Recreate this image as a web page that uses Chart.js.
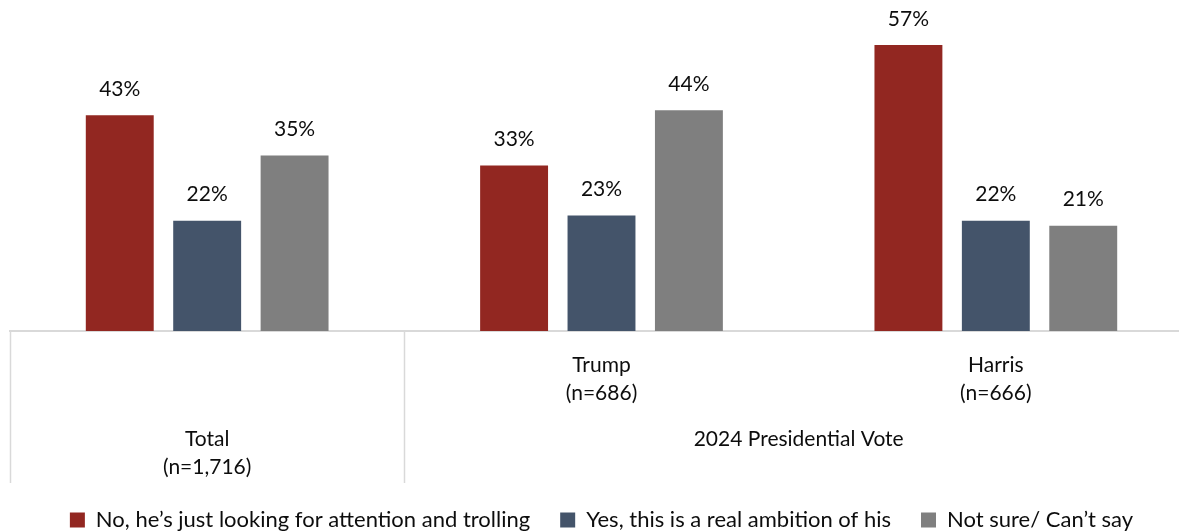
<!DOCTYPE html>
<html>
<head>
<meta charset="utf-8">
<script src="https://cdn.jsdelivr.net/npm/chart.js@4"></script>
<style>
  html, body { margin: 0; padding: 0; background: #fff; overflow: hidden; }
  #wrap { position: absolute; left: 0; top: 0; width: 1200px; height: 531px; }
</style>
</head>
<body>
<div id="wrap"><canvas id="chart"></canvas></div>
<script>
const categories = ['Total', 'Trump', 'Harris'];
const sampleSizes = ['(n=1,716)', '(n=686)', '(n=666)'];
const groupTitle = '2024 Presidential Vote';

const seriesNames = [
    'No, he\u2019s just looking for attention and trolling',
    'Yes, this is a real ambition of his',
    'Not sure/ Can\u2019t say'
];
const noTrolling = [43, 33, 57];
const yesAmbition = [22, 23, 22];
const notSure = [35, 44, 21];

const colors = ['#922721', '#44546a', '#7f7f7f'];
const FONT = 'Lato, "Open Sans", sans-serif';
const TEXT = '#0d0d0d';

// value labels on top of bars
const barLabels = {
    id: 'barLabels',
    afterDatasetsDraw(chart) {
        const ctx = chart.ctx;
        ctx.save();
        ctx.font = '21px ' + FONT;
        ctx.fillStyle = TEXT;
        ctx.textAlign = 'center';
        ctx.textBaseline = 'middle';
        chart.data.datasets.forEach((ds, i) => {
            chart.getDatasetMeta(i).data.forEach((bar, j) => {
                ctx.fillText(ds.data[j] + '%', bar.x, bar.y - 26);
            });
        });
        ctx.restore();
    }
};

// table-like category axis with group label
const axisTable = {
    id: 'axisTable',
    afterDraw(chart) {
        const ctx = chart.ctx;
        const x = chart.scales.x;
        const base = chart.chartArea.bottom;
        const step = x.getPixelForValue(1) - x.getPixelForValue(0);
        ctx.save();
        ctx.strokeStyle = '#d9d9d9';
        ctx.lineWidth = 1.5;
        [x.getPixelForValue(0) - step / 2, x.getPixelForValue(0) + step / 2].forEach(px => {
            ctx.beginPath();
            ctx.moveTo(Math.round(px) + 0.5, base);
            ctx.lineTo(Math.round(px) + 0.5, base + 152);
            ctx.stroke();
        });
        ctx.font = '21px ' + FONT;
        ctx.fillStyle = TEXT;
        ctx.textAlign = 'center';
        ctx.textBaseline = 'middle';
        // Total spans both rows
        ctx.fillText(categories[0], x.getPixelForValue(0), base + 108);
        ctx.fillText(sampleSizes[0], x.getPixelForValue(0), base + 136);
        for (let i = 1; i < categories.length; i++) {
            ctx.fillText(categories[i], x.getPixelForValue(i), base + 34);
            ctx.fillText(sampleSizes[i], x.getPixelForValue(i), base + 62);
        }
        const mid = (x.getPixelForValue(1) + x.getPixelForValue(2)) / 2;
        ctx.fillText(groupTitle, mid, base + 108);
        ctx.restore();
    }
};

new Chart(document.getElementById('chart'), {
    type: 'bar',
    data: {
        labels: categories,
        datasets: [
            { label: seriesNames[0], data: noTrolling, backgroundColor: colors[0] },
            { label: seriesNames[1], data: yesAmbition, backgroundColor: colors[1] },
            { label: seriesNames[2], data: notSure, backgroundColor: colors[2] }
        ]
    },
    options: {
        responsive: true,
        maintainAspectRatio: false,
        animation: false,
        categoryPercentage: 0.665,
        barPercentage: 0.777,
        layout: { padding: { top: 30, left: 10, right: 7, bottom: -10 } },
        plugins: {
            tooltip: { enabled: false },
            legend: {
                position: 'bottom',
                labels: {
                    boxWidth: 15,
                    boxHeight: 15,
                    padding: 30,
                    color: TEXT,
                    font: { family: FONT, size: 22 }
                }
            }
        },
        scales: {
            x: {
                grid: { display: false },
                border: { color: '#d9d9d9', width: 2 },
                ticks: { display: false },
                afterFit: (scale) => { scale.height = 148; }
            },
            y: {
                display: false,
                min: 0,
                max: 60
            }
        }
    },
    plugins: [barLabels, axisTable]
});
</script>
</body>
</html>
